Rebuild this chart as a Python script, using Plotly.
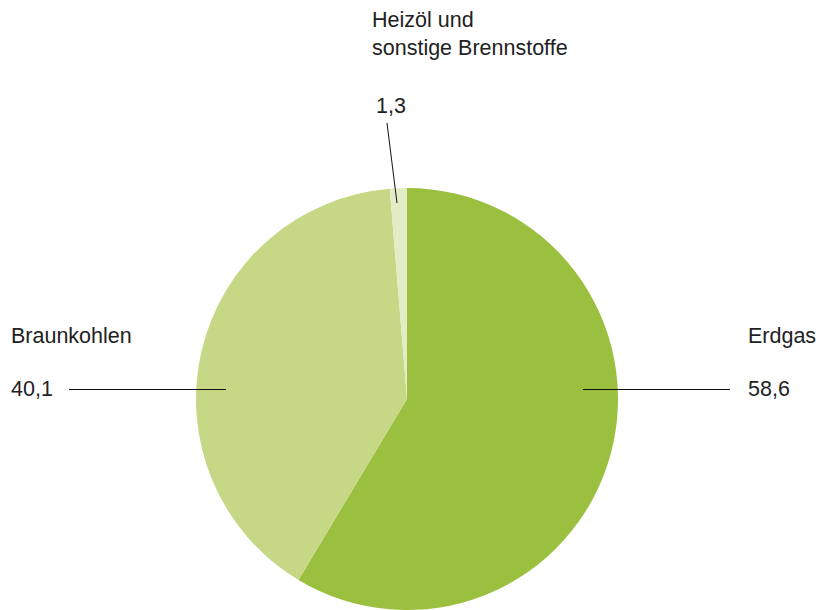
import plotly.graph_objects as go

# Energieträger-Anteile in %
categories = ["Erdgas", "Braunkohlen", "Heizöl und<br>sonstige Brennstoffe"]
values = [58.6, 40.1, 1.3]
value_labels = ["58,6", "40,1", "1,3"]
colors = ["#9BBF3E", "#C6D886", "#E3ECC5"]

W, H = 816, 610


def px(x):
    return x / W


def py(y):
    return 1 - y / H


fig = go.Figure()

fig.add_trace(go.Pie(
    labels=categories,
    values=values,
    sort=False,
    direction="clockwise",
    rotation=0,
    marker=dict(colors=colors, line=dict(width=0)),
    textinfo="none",
    hoverinfo="label+value",
    showlegend=False,
    domain=dict(x=[px(196), px(618)], y=[0, py(188)]),
))

font = dict(family="Liberation Sans, Arial, sans-serif", size=21.5, color="#222222")

# Beschriftungen: Kategorie oben, Wert darunter
label_pos = {
    "Erdgas": (746, 336, 389),
    "Braunkohlen": (9, 336, 389),
}
for cat, val in zip(categories, value_labels):
    if cat in label_pos:
        x, yl, yv = label_pos[cat]
        fig.add_annotation(x=px(x), y=py(yl), xref="paper", yref="paper",
                           text=cat, showarrow=False, xanchor="left",
                           yanchor="middle", font=font, align="left")
        fig.add_annotation(x=px(x), y=py(yv), xref="paper", yref="paper",
                           text=val, showarrow=False, xanchor="left",
                           yanchor="middle", font=font, align="left")
    else:
        fig.add_annotation(x=px(370), y=py(34), xref="paper", yref="paper",
                           text=cat, showarrow=False, xanchor="left",
                           yanchor="middle", font=font, align="left")
        fig.add_annotation(x=px(374), y=py(106), xref="paper", yref="paper",
                           text=val, showarrow=False, xanchor="left",
                           yanchor="middle", font=font, align="left")

# Verbindungslinien
leader_lines = [
    (69, 389.5, 226, 389.5),
    (583, 389.5, 730, 389.5),
    (387, 123, 397, 203),
]
for x0, y0, x1, y1 in leader_lines:
    fig.add_shape(type="line", xref="paper", yref="paper",
                  x0=px(x0), y0=py(y0), x1=px(x1), y1=py(y1),
                  line=dict(color="#111111", width=1))

fig.update_layout(
    width=W,
    height=H,
    margin=dict(l=0, r=0, t=0, b=0),
    paper_bgcolor="white",
    plot_bgcolor="white",
)

fig.write_html("out.html", config={"displayModeBar": False},
               post_script="document.body.style.margin='0';")
